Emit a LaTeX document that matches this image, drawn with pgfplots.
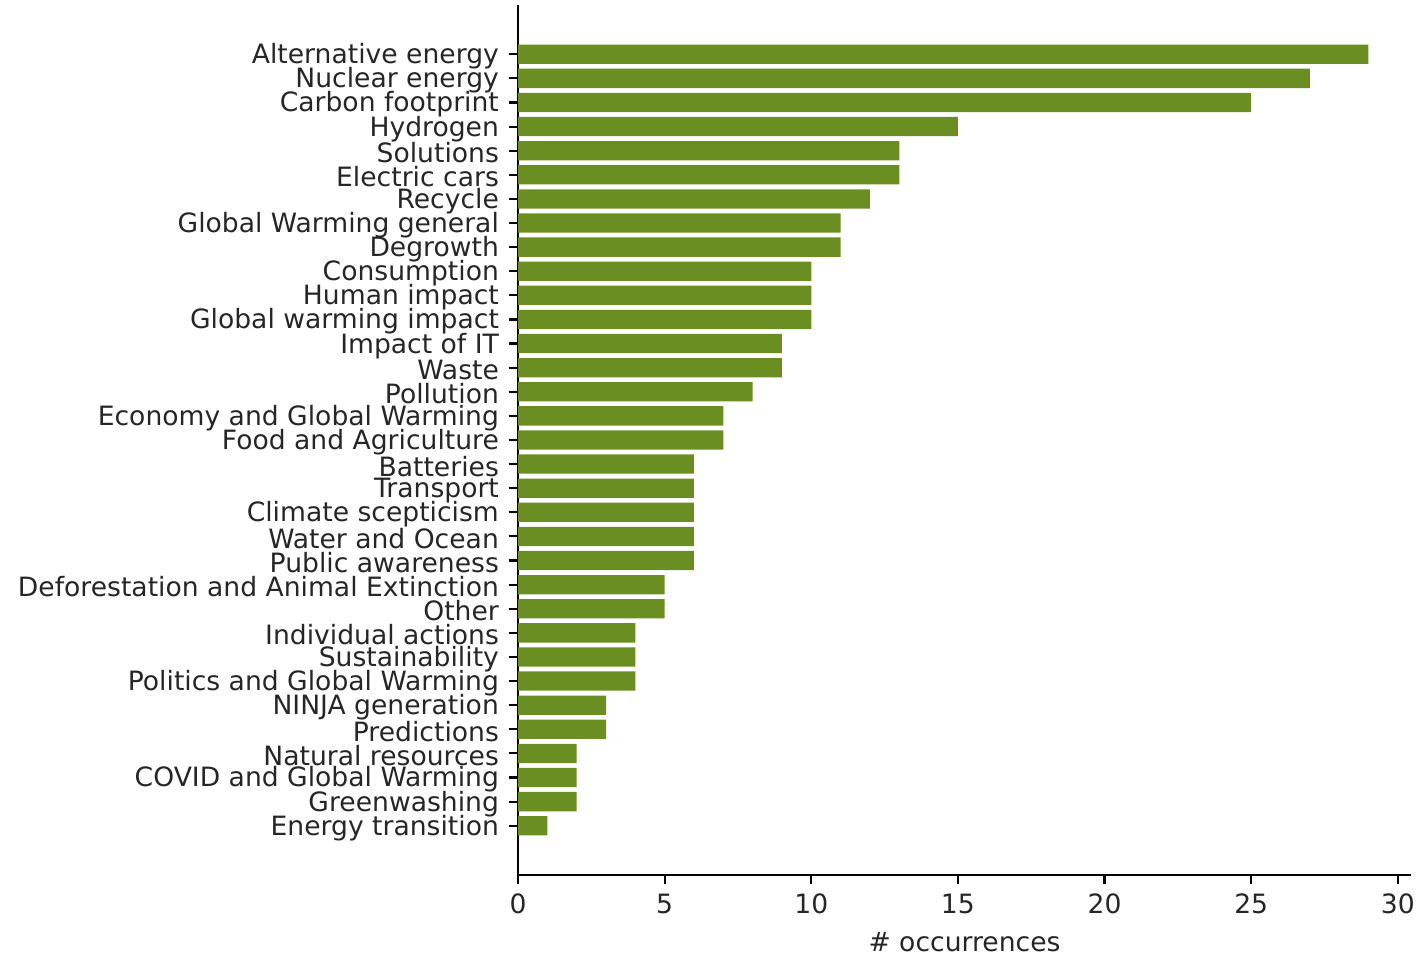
\documentclass[border=0pt]{standalone}
\usepackage{pgfplots}
\pgfplotsset{compat=1.18}
\usepackage{fontspec}
\setmainfont{DejaVu Sans}
\definecolor{barolive}{RGB}{107,142,35}
\begin{document}
\begin{tikzpicture}
\useasboundingbox (-194.8pt,-30.1pt) rectangle (338.8pt,329pt);
\begin{axis}[
  at={(0,0)}, anchor=south west,
  scale only axis, width=335.8pt, height=327.1pt,
  xbar, bar width=0.8,
  xmin=0, xmax=30.45, ymin=-2.04, ymax=34.04, y dir=reverse,
  axis x line*=bottom, axis y line*=left,
  x axis line style={-}, y axis line style={-},
  axis line style={line width=0.8pt, black},
  ytick={0,...,32},
  yticklabels={Alternative energy,Nuclear energy,Carbon footprint,Hydrogen,Solutions,Electric cars,Recycle,Global Warming general,Degrowth,Consumption,Human impact,Global warming impact,Impact of IT,Waste,Pollution,Economy and Global Warming,Food and Agriculture,Batteries,Transport,Climate scepticism,Water and Ocean,Public awareness,Deforestation and Animal Extinction,Other,Individual actions,Sustainability,Politics and Global Warming,NINJA generation,Predictions,Natural resources,COVID and Global Warming,Greenwashing,Energy transition},
  xtick={0,5,10,15,20,25,30},
  tick align=outside, major tick length=3.5pt,
  tick style={black, line width=0.8pt},
  /pgf/number format/assume math mode=true,
  ticklabel style={font=\fontsize{10}{11}\selectfont, text=black!85},
  yticklabel style={inner sep=0pt, xshift=-3.5pt, yshift=-0.8pt},
  xticklabel style={inner sep=0pt, yshift=-3.5pt},
  xlabel={\# occurrences},
  xlabel style={font=\fontsize{10}{11}\selectfont, text=black!85, yshift=-3.2pt},
  clip=false,
]
\addplot[fill=barolive, draw=none] coordinates {
(29,0) (27,1) (25,2) (15,3) (13,4) (13,5) (12,6) (11,7) (11,8) (10,9) (10,10) (10,11) (9,12) (9,13) (8,14) (7,15) (7,16) (6,17) (6,18) (6,19) (6,20) (6,21) (5,22) (5,23) (4,24) (4,25) (4,26) (3,27) (3,28) (2,29) (2,30) (2,31) (1,32)
};
\end{axis}
\end{tikzpicture}
\end{document}
